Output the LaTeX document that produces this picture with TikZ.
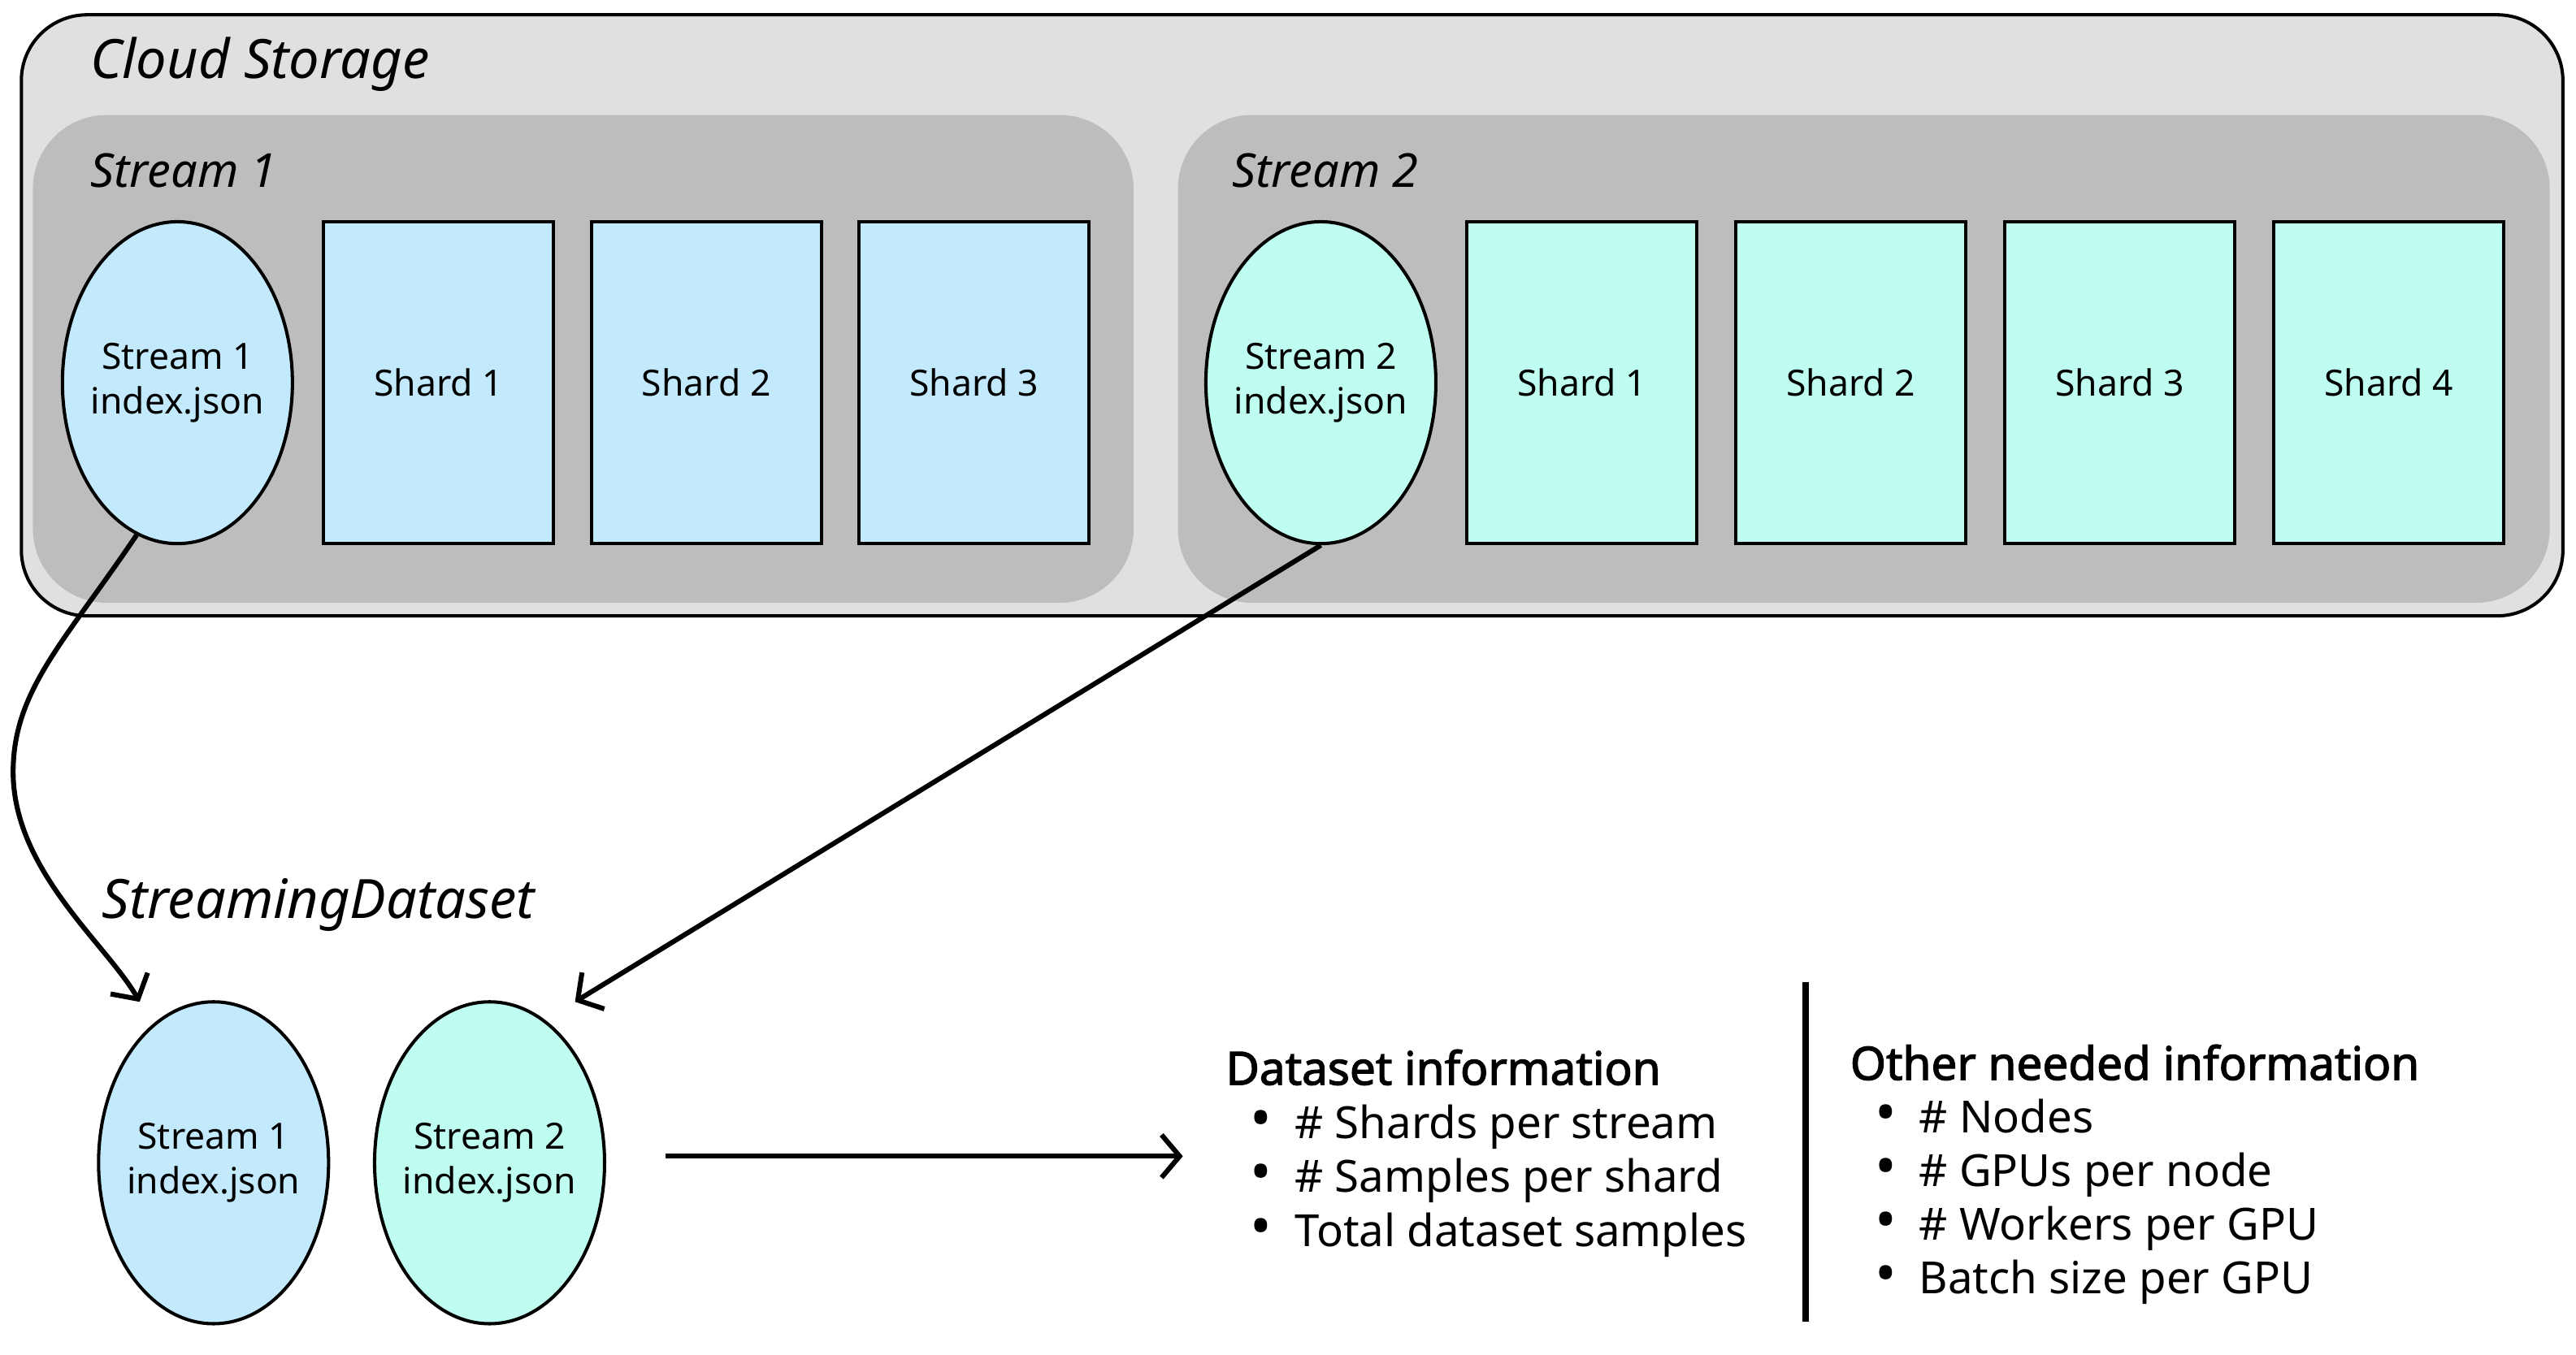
\documentclass[tikz,border=0pt]{standalone}
\usepackage{fontspec}
\setmainfont{Noto Sans}[AutoFakeBold=2.2]
\usetikzlibrary{shapes.geometric,arrows.meta,positioning}

\definecolor{cloudgray}{HTML}{E0E0E0}
\definecolor{streamgray}{HTML}{BDBDBD}
\definecolor{sblue}{HTML}{C2EAFC}
\definecolor{saqua}{HTML}{BFFDF0}

\tikzset{
  cloudbox/.style={draw=black,line width=2pt,fill=cloudgray,rounded corners=40pt},
  streambox/.style={fill=streamgray,rounded corners=45pt},
  idxnode/.style={ellipse,draw=black,line width=2pt,minimum width=140,minimum height=196,inner ysep=0pt,inner xsep=-6pt,align=center,font=\fontsize{22}{27}\selectfont},
  shardbox/.style={rectangle,draw=black,line width=2pt,minimum width=140,minimum height=196,inner sep=0pt,font=\fontsize{22}{27}\selectfont},
  grouplbl/.style={anchor=west,inner sep=0pt,font=\itshape\fontsize{33}{38}\selectfont},
  streamlbl/.style={anchor=west,inner sep=0pt,font=\itshape\fontsize{28.5}{32}\selectfont},
  infohead/.style={anchor=west,inner sep=0pt,text height=21pt,text depth=6pt,font=\bfseries\fontsize{28}{32}\selectfont},
  infoitem/.style={anchor=west,inner sep=0pt,text height=20pt,text depth=6pt,font=\fontsize{27}{31}\selectfont,
    execute at begin node={\makebox[27pt][l]{\scalebox{1.3}{\textbullet}}}},
  flowarrow/.style={->,line width=3pt}
}

\begin{document}
\begin{tikzpicture}[x=1pt,y=-1pt,>={Straight Barb[length=11pt,width=26pt]}]
\useasboundingbox (0,0) rectangle (1568,825);

% cloud storage and its two streams
\node[cloudbox,minimum width=1547,minimum height=366] (cloud) at (786.5,192) {};
\node[grouplbl] (cloudlbl) at (55,39) {Cloud Storage};
\node[streambox,minimum width=670,minimum height=297] (st1) at (355,218.5) {};
\node[streambox,minimum width=835,minimum height=297] (st2) at (1134.5,218.5) {};
\node[streamlbl] (st1lbl) at (55,104) {Stream 1};
\node[streamlbl] (st2lbl) at (750,104) {Stream 2};

\node[idxnode,fill=sblue] (s1idx) at (108,233) {Stream 1\\index.json};
\foreach \n in {1,2,3}
  \node[shardbox,fill=sblue] (s1shard\n) at ({267+163*(\n-1)},233) {Shard \n};

\node[idxnode,fill=saqua] (s2idx) at (804,233) {Stream 2\\index.json};
\foreach \n in {1,...,4}
  \node[shardbox,fill=saqua] (s2shard\n) at ({963+163.7*(\n-1)},233) {Shard \n};

% streaming dataset
\node[grouplbl] (dslbl) at (62,551) {StreamingDataset};
\node[idxnode,fill=sblue] (ds1) at (130,708) {Stream 1\\index.json};
\node[idxnode,fill=saqua] (ds2) at (298,708) {Stream 2\\index.json};

\coordinate (tip1) at (85,610);
\coordinate (tip2) at (350,610);

\draw[flowarrow] (s1idx.255) .. controls (40,390) and (8,420) .. (8,470)
  .. controls (8,530) and (65,575) .. (tip1);
\draw[flowarrow] (s2idx.south) -- (tip2);
\draw[flowarrow] (ds2.east) ++(36,-4) -- ++(315,0);

% information lists
\node[infohead] (dinfo) at (746,653) {Dataset information};
\foreach \t [count=\n] in {\# Shards per stream,\# Samples per shard,Total dataset samples}
  \node[infoitem] (ditem\n) at (761,{653+33*\n}) {\t};

\draw[line width=4pt] (1099,598) -- (1099,805);

\node[infohead] (oinfo) at (1126,650) {Other needed information};
\foreach \t [count=\n] in {\# Nodes,\# GPUs per node,\# Workers per GPU,Batch size per GPU}
  \node[infoitem] (oitem\n) at (1141,{650+32.7*\n}) {\t};
\end{tikzpicture}
\end{document}
